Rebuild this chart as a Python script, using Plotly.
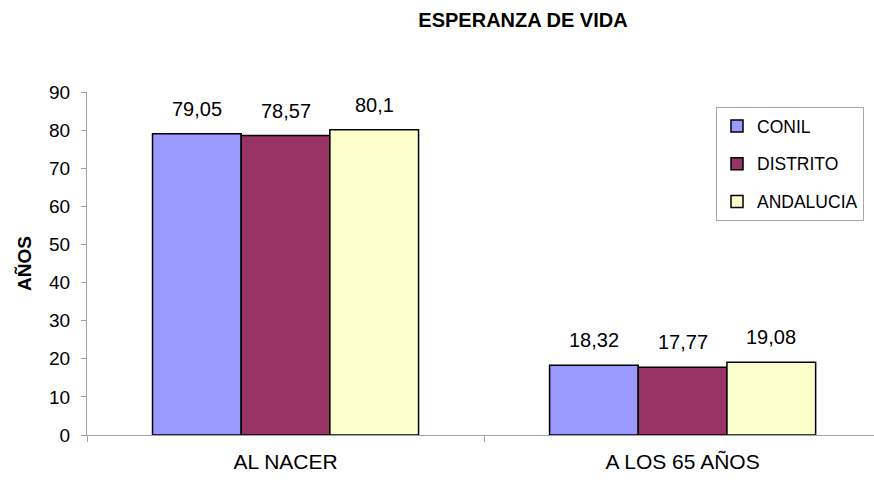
import plotly.graph_objects as go

categories = ["AL NACER", "A LOS 65 AÑOS"]
series_names = ["CONIL", "DISTRITO", "ANDALUCIA"]
conil = [79.05, 18.32]
distrito = [78.57, 17.77]
andalucia = [80.1, 19.08]
y_ticks = [0, 10, 20, 30, 40, 50, 60, 70, 80, 90]

colors = ["#9999FF", "#993366", "#FFFFCC"]
values = [conil, distrito, andalucia]
FONT = "Liberation Sans, Arial, sans-serif"

fig = go.Figure()
for k, (name, vals, col) in enumerate(zip(series_names, values, colors)):
    fig.add_trace(go.Bar(
        x=categories, y=vals, name=name, legendgroup=name,
        marker=dict(color=col, line=dict(color="#000000", width=1.5)),
    ))

bargap = 0.33
w = (1 - bargap) / 3
for k, vals in enumerate(values):
    for i, v in enumerate(vals):
        fig.add_annotation(
            x=i + (k - 1) * w, y=v, xref="x", yref="y",
            text=str(v).replace(".", ","), showarrow=False,
            yanchor="middle", yshift=25,
            font=dict(family=FONT, size=20, color="#000000"),
        )

fig.update_layout(
    width=874, height=480,
    margin=dict(l=87, r=0, t=92, b=45),
    paper_bgcolor="#FFFFFF", plot_bgcolor="#FFFFFF",
    barmode="group", bargap=bargap, bargroupgap=0,
    title=dict(text="<b>ESPERANZA DE VIDA</b>", x=523 / 874, xanchor="center",
               y=1 - 20 / 480, yanchor="middle",
               font=dict(family=FONT, size=20, color="#000000")),
    font=dict(family=FONT, size=19, color="#000000"),
    showlegend=True,
    legend=dict(x=(716 - 87) / 787, y=(435 - 107) / 343, xanchor="left", yanchor="top",
                bgcolor="#FFFFFF", bordercolor="#A6A6A6", borderwidth=1,
                font=dict(family=FONT, size=17.5, color="#000000"),
                tracegroupgap=12, traceorder="grouped"),
    xaxis=dict(type="category", range=[-0.5, 1.482], showline=True, linecolor="#A0A0A0",
               linewidth=1, ticks="outside", tickson="boundaries", ticklen=6,
               tickcolor="#A0A0A0", showgrid=False, zeroline=False,
               ticklabelstandoff=8, automargin=False,
               tickfont=dict(family=FONT, size=21, color="#000000")),
    yaxis=dict(range=[0, 90], tickvals=y_ticks, showline=True, linecolor="#A0A0A0",
               linewidth=1, ticks="outside", ticklen=5, tickcolor="#A0A0A0",
               showgrid=False, zeroline=False, ticklabelstandoff=7, automargin=False,
               title=dict(text="<b>AÑOS</b>", standoff=12,
                          font=dict(family=FONT, size=19, color="#000000")),
               tickfont=dict(family=FONT, size=19, color="#000000")),
)

fig.write_html("out.html", config={"displayModeBar": False},
               post_script="document.body.style.margin='0';")
